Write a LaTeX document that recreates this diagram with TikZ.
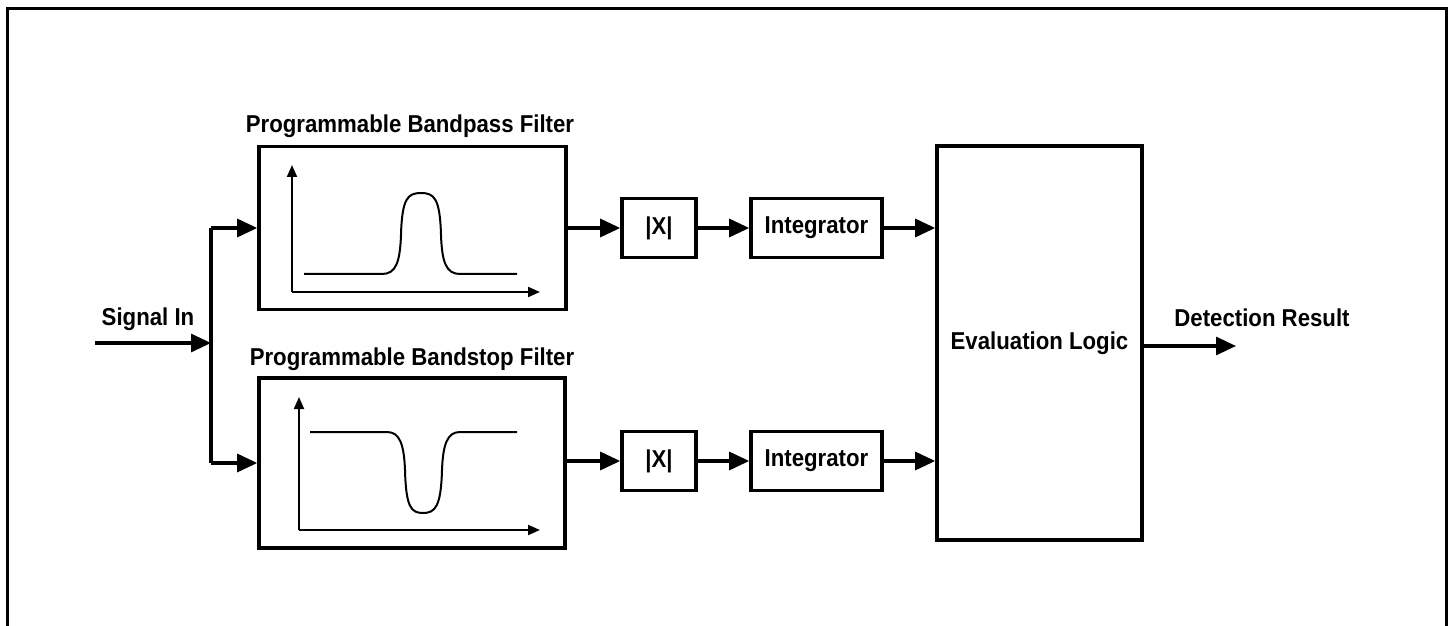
\documentclass[tikz,border=0pt]{standalone}
\usepackage{fontspec}
\setmainfont{Liberation Sans}[FakeStretch=0.91]
\usetikzlibrary{arrows.meta}
\begin{document}
\begin{tikzpicture}[x=0.5pt,y=-0.5pt,
  every node/.style={font=\fontsize{12.2}{14}\selectfont\bfseries},
  blk/.style={draw,line width=1.8pt,inner sep=0pt},
  conn/.style={line width=1.6pt,-{Triangle[length=10pt,width=9pt]}},
  wire/.style={line width=1.6pt},
  axis/.style={line width=1pt,-{Triangle[length=6pt,width=5pt]}},
  curve/.style={line width=1pt},
  lbl/.style={inner sep=1pt}]
\useasboundingbox (0,0) rectangle (1448,626);
\draw[line width=1.5pt] (7,640) -- (7,9) -- (1446,9) -- (1446,640);
% blocks
\node[blk,minimum width=153.5pt,minimum height=81.5pt] (topf) at (412.5,228) {};
\node[blk,minimum width=153pt,minimum height=85pt] (botf) at (412,463) {};
\node[blk,minimum width=37pt,minimum height=29.5pt] (absT) at (659,228) {|X|};
\node[blk,minimum width=65.5pt,minimum height=29.5pt] (intT) at (816.5,228) {Integrator};
\node[blk,minimum width=37pt,minimum height=29.5pt] (absB) at (659,461) {|X|};
\node[blk,minimum width=65.5pt,minimum height=29.5pt] (intB) at (816.5,461) {Integrator};
\node[blk,minimum width=102.5pt,minimum height=197pt] (eval) at (1039.5,343) {Evaluation Logic};
% labels
\node[lbl,anchor=base] (topl) at (410,133) {Programmable Bandpass Filter};
\node[lbl,anchor=base] (botl) at (412,365) {Programmable Bandstop Filter};
\node[lbl,anchor=base] (sinl) at (148,326) {Signal In};
\node[lbl,anchor=base] (outl) at (1262,327) {Detection Result};
% coordinates
\coordinate (sin) at (95,343);
\coordinate (split) at (211,343);
\coordinate (out) at (1236,346);
% connectors
\draw[conn] (sin) -- (split);
\draw[wire] (split |- topf.west) -- (split |- botf.west);
\draw[conn] (split |- topf.west) -- (topf.west);
\draw[conn] (split |- botf.west) -- (botf.west);
\draw[conn] (topf.east |- absT.west) -- (absT.west);
\draw[conn] (absT.east) -- (intT.west);
\draw[conn] (intT.east) -- (intT.east -| eval.west);
\draw[conn] (botf.east |- absB.west) -- (absB.west);
\draw[conn] (absB.east) -- (intB.west);
\draw[conn] (intB.east) -- (intB.east -| eval.west);
\draw[conn] (eval.east |- out) -- (out);
% bandpass plot
\draw[axis] (292,292) -- (292,165);
\draw[axis] (292,292) -- (540,292);
\draw[curve] (304,274) -- (382,274) .. controls (396,274) and (400,262) .. (401,235)
  .. controls (402,198) and (408,193) .. (421,193)
  .. controls (434,193) and (440,198) .. (441,235)
  .. controls (442,262) and (446,274) .. (460,274) -- (517,274);
% bandstop plot
\draw[axis] (299,530) -- (299,397);
\draw[axis] (299,530) -- (540,530);
\draw[curve] (310,432) -- (387,432) .. controls (400,432) and (404,445) .. (405,470)
  .. controls (406,507) and (411,513) .. (423,513)
  .. controls (435,513) and (441,507) .. (442,470)
  .. controls (443,445) and (447,432) .. (460,432) -- (517,432);
\end{tikzpicture}
\end{document}
